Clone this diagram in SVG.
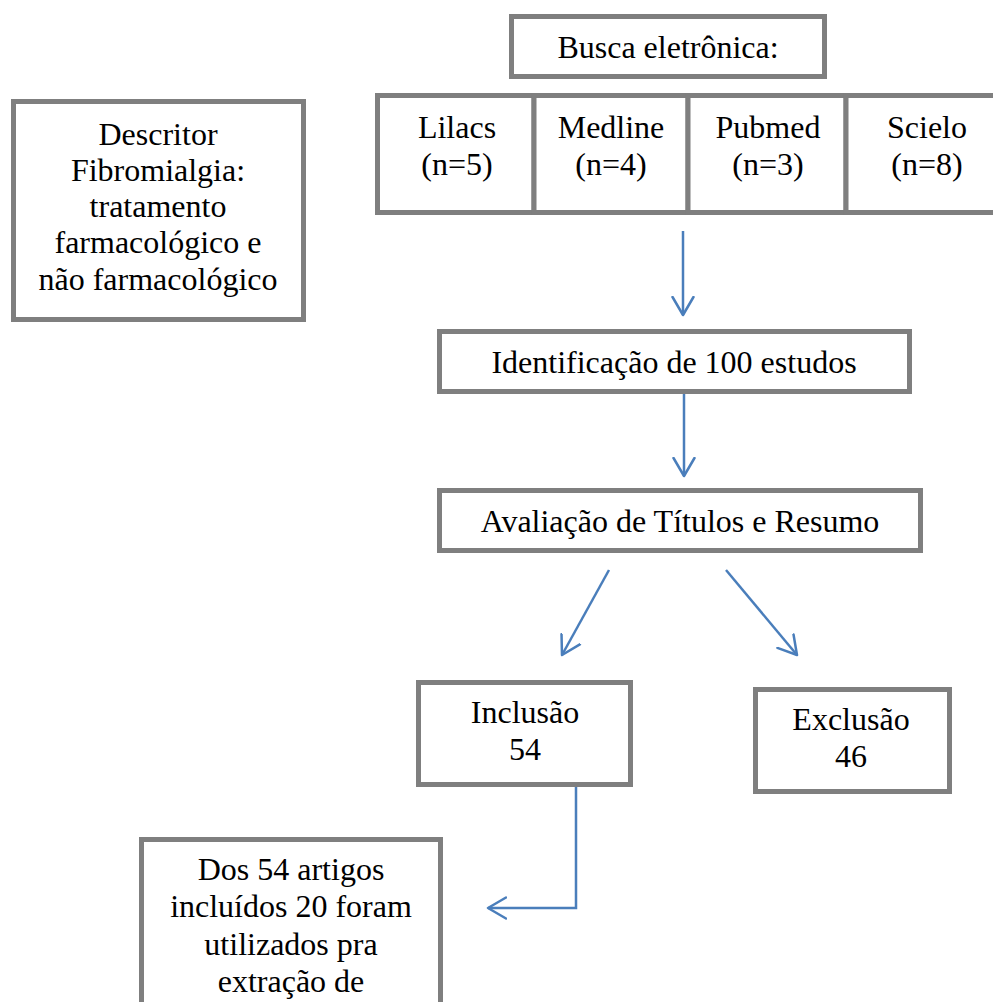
<svg xmlns="http://www.w3.org/2000/svg" width="993" height="1002" viewBox="0 0 993 1002">
<style>
  .box { fill: #ffffff; stroke: #7f7f7f; stroke-width: 5; }
  .t { font-family: "Liberation Serif", "Times New Roman", serif; font-size: 32px; fill: #000000; text-anchor: middle; }
  .con { fill: none; stroke: #4a7ebb; stroke-width: 2.5; }
</style>
<defs>
  <marker id="arr" markerUnits="userSpaceOnUse" viewBox="0 0 22 24" refX="19" refY="12" markerWidth="22" markerHeight="24" orient="auto">
    <path d="M1,1.5 L19,12 L1,22.5" fill="none" stroke="#4a7ebb" stroke-width="2.5" stroke-linecap="round" stroke-linejoin="round"/>
  </marker>
</defs>
<rect width="993" height="1002" fill="#ffffff"/>

<g id="connectors">
  <path class="con" d="M683,231 L683,315" marker-end="url(#arr)"/>
  <path class="con" d="M684,393 L684,476" marker-end="url(#arr)"/>
  <path class="con" d="M609,570 L562,655" marker-end="url(#arr)"/>
  <path class="con" d="M726,570 L797,655" marker-end="url(#arr)"/>
  <path class="con" d="M576,787 L576,908 L488,908" marker-end="url(#arr)"/>
</g>

<g id="busca">
  <rect class="box" x="511.5" y="16.5" width="313" height="60"/>
  <text class="t" x="668" y="58">Busca eletrônica:</text>
</g>

<g id="lilacs">
  <rect class="box" x="377.5" y="95.5" width="156.5" height="117"/>
  <text class="t" x="457" y="138">Lilacs</text>
  <text class="t" x="457" y="175">(n=5)</text>
</g>
<g id="medline">
  <rect class="box" x="534" y="95.5" width="154" height="117"/>
  <text class="t" x="611" y="138">Medline</text>
  <text class="t" x="611" y="175">(n=4)</text>
</g>
<g id="pubmed">
  <rect class="box" x="688" y="95.5" width="158" height="117"/>
  <text class="t" x="768" y="138">Pubmed</text>
  <text class="t" x="768" y="175">(n=3)</text>
</g>
<g id="scielo">
  <rect class="box" x="846" y="95.5" width="160" height="117"/>
  <text class="t" x="927" y="138">Scielo</text>
  <text class="t" x="927" y="175">(n=8)</text>
</g>

<g id="descritor">
  <rect class="box" x="13.5" y="101.5" width="290" height="218"/>
  <text class="t" x="158" y="145">Descritor</text>
  <text class="t" x="158" y="181">Fibromialgia:</text>
  <text class="t" x="158" y="217">tratamento</text>
  <text class="t" x="158" y="253">farmacológico e</text>
  <text class="t" x="158" y="290">não farmacológico</text>
</g>

<g id="identificacao">
  <rect class="box" x="439.5" y="331.5" width="470" height="60"/>
  <text class="t" x="674" y="373">Identificação de 100 estudos</text>
</g>

<g id="avaliacao">
  <rect class="box" x="439.5" y="490.5" width="481" height="60"/>
  <text class="t" x="680" y="532">Avaliação de Títulos e Resumo</text>
</g>

<g id="inclusao">
  <rect class="box" x="418.5" y="682.5" width="212" height="102"/>
  <text class="t" x="525" y="723">Inclusão</text>
  <text class="t" x="525" y="760">54</text>
</g>

<g id="exclusao">
  <rect class="box" x="755.5" y="689.5" width="194" height="102"/>
  <text class="t" x="851" y="730">Exclusão</text>
  <text class="t" x="851" y="767">46</text>
</g>

<g id="resultado">
  <rect class="box" x="141.5" y="839.5" width="299" height="200"/>
  <text class="t" x="291" y="880">Dos 54 artigos</text>
  <text class="t" x="291" y="917">incluídos 20 foram</text>
  <text class="t" x="291" y="955">utilizados pra</text>
  <text class="t" x="291" y="992">extração de</text>
</g>
</svg>
